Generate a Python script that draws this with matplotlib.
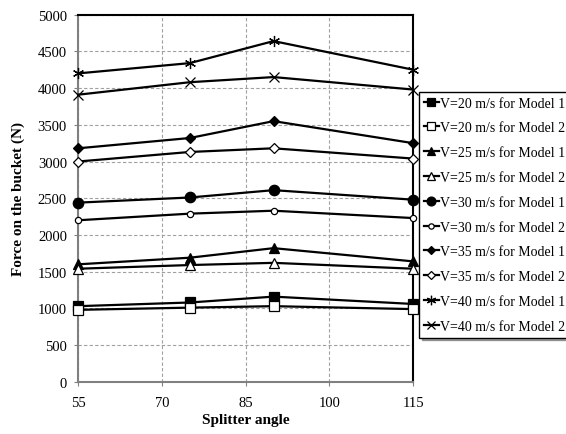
import matplotlib.pyplot as plt

plt.rcParams['font.family'] = ['Liberation Serif', 'DejaVu Serif']

angles = [55, 75, 90, 115]

labels = [
    "V=20 m/s for Model 1", "V=20 m/s for Model 2",
    "V=25 m/s for Model 1", "V=25 m/s for Model 2",
    "V=30 m/s for Model 1", "V=30 m/s for Model 2",
    "V=35 m/s for Model 1", "V=35 m/s for Model 2",
    "V=40 m/s for Model 1", "V=40 m/s for Model 2",
]

v20_m1 = [1030, 1080, 1160, 1060]
v20_m2 = [980, 1010, 1030, 990]
v25_m1 = [1600, 1690, 1820, 1640]
v25_m2 = [1540, 1590, 1620, 1540]
v30_m1 = [2440, 2510, 2610, 2480]
v30_m2 = [2200, 2290, 2330, 2230]
v35_m1 = [3180, 3320, 3550, 3250]
v35_m2 = [3000, 3130, 3180, 3040]
v40_m1 = [4200, 4340, 4640, 4250]
v40_m2 = [3910, 4080, 4150, 3980]

series = [v20_m1, v20_m2, v25_m1, v25_m2, v30_m1,
          v30_m2, v35_m1, v35_m2, v40_m1, v40_m2]

# marker, size, filled
styles = [
    ("s", 6.5, True), ("s", 6.5, False),
    ("^", 7, True), ("^", 7, False),
    ("o", 7.5, True), ("o", 4.5, False),
    ("D", 5, True), ("D", 5, False),
    ((6, 2, 0), 8, True), ("x", 6.5, True),
]

fig = plt.figure(figsize=(5.66, 4.35), dpi=100)
ax = fig.add_axes([0.138, 0.12, 0.592, 0.844])

for vals, lab, (m, ms, filled) in zip(series, labels, styles):
    ax.plot(angles, vals, color="black", lw=1.6, marker=m, markersize=ms,
            markerfacecolor="black" if filled else "white",
            markeredgecolor="black", markeredgewidth=0.9, label=lab,
            clip_on=False, zorder=3)

ax.set_xlim(55, 115)
ax.set_ylim(0, 5000)
ax.set_xticks([55, 70, 85, 100, 115])
ax.set_yticks(range(0, 5001, 500))
ax.tick_params(labelsize=10.5, length=3, color="gray")
ax.tick_params(axis="x", pad=7)
ax.tick_params(axis="y", pad=5)
ax.grid(True, color="#a0a0a0", linestyle=(0, (3, 2)), linewidth=0.8)
ax.set_axisbelow(True)

for s in ["top", "right"]:
    ax.spines[s].set_color("black")
    ax.spines[s].set_linewidth(1.5)
for s in ["left", "bottom"]:
    ax.spines[s].set_color("gray")
    ax.spines[s].set_linewidth(1.5)

ax.set_xlabel("Splitter angle", fontsize=11, fontweight="bold", labelpad=3)
ax.set_ylabel("Force on the bucket (N)", fontsize=11, fontweight="bold",
              labelpad=9)

leg = fig.legend(loc="upper left", bbox_to_anchor=(0.740, 0.787),
                 fontsize=10, frameon=True, fancybox=False, shadow=True,
                 handlelength=1.1, handletextpad=0.1, labelspacing=0.85,
                 borderpad=0.35, borderaxespad=0, markerscale=0.85)
leg.get_frame().set_edgecolor("black")
leg.get_frame().set_linewidth(1.0)

fig.savefig("out.png", dpi=100)
